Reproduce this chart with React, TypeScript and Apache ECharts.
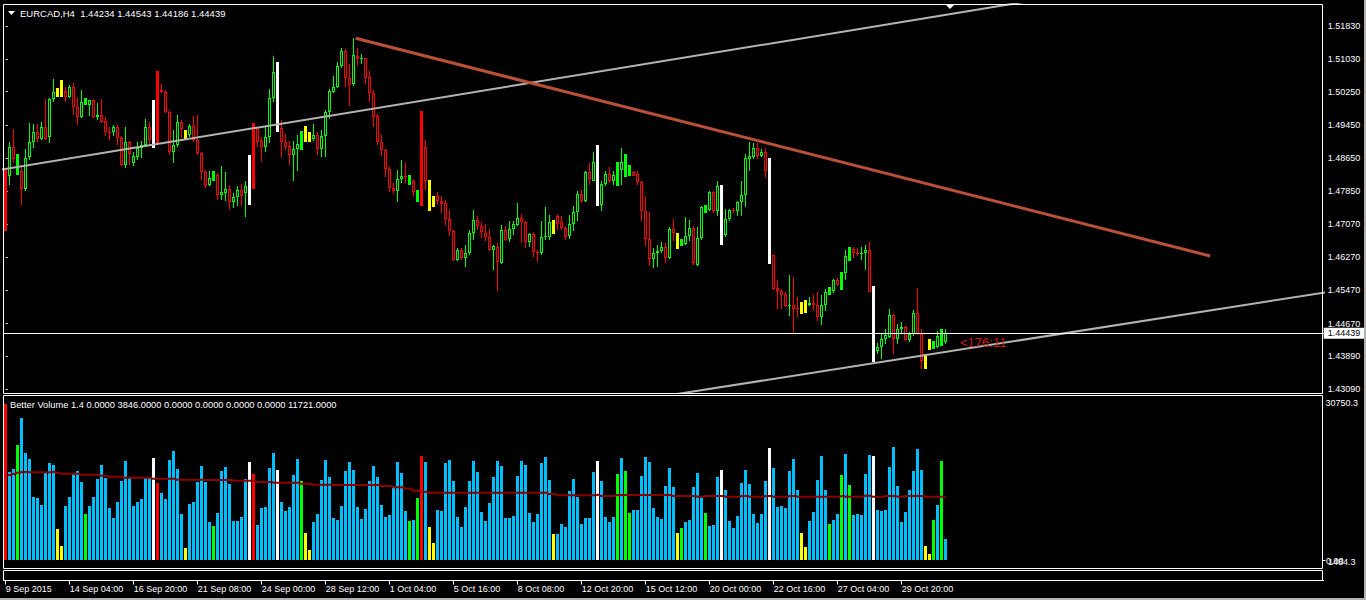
import React, { useEffect, useRef } from "react";
import * as echarts from "echarts";

// ---------- data (EURCAD, H4) ----------
const timeLabels = [
  "9 Sep 2015", "14 Sep 04:00", "16 Sep 20:00", "21 Sep 08:00", "24 Sep 00:00",
  "28 Sep 12:00", "1 Oct 04:00", "5 Oct 16:00", "8 Oct 08:00", "12 Oct 20:00",
  "15 Oct 12:00", "20 Oct 00:00", "22 Oct 16:00", "27 Oct 04:00", "29 Oct 20:00",
];

const priceTicks = [1.5183, 1.5103, 1.5025, 1.4945, 1.4865, 1.4785, 1.4707, 1.4627, 1.4547, 1.4467, 1.4389, 1.4309];

const opens = [
  1.4837, 1.4821, 1.4892, 1.4876, 1.4834, 1.4792, 1.4867, 1.4905, 1.4928, 1.4912,
  1.4939, 1.4917, 1.5007, 1.5033, 1.5053, 1.5026, 1.5011, 1.5036, 1.4988, 1.4965,
  1.5010, 1.4992, 1.5005, 1.4963, 1.4968, 1.4954, 1.4928, 1.4927, 1.4940, 1.4913,
  1.4849, 1.4905, 1.4853, 1.4869, 1.4889, 1.4897, 1.4940, 1.5005, 1.5075, 1.5029,
  1.5024, 1.4976, 1.4881, 1.4897, 1.4952, 1.4933, 1.4920, 1.4943, 1.4909, 1.4877,
  1.4832, 1.4800, 1.4833, 1.4825, 1.4776, 1.4781, 1.4791, 1.4759, 1.4772, 1.4789,
  1.4781, 1.4873, 1.4949, 1.4935, 1.4907, 1.4892, 1.4917, 1.5009, 1.5097, 1.4937,
  1.4904, 1.4895, 1.4872, 1.4887, 1.4931, 1.4943, 1.4928, 1.4912, 1.4921, 1.4887,
  1.4918, 1.4976, 1.5025, 1.5037, 1.5087, 1.5122, 1.5059, 1.5043, 1.5110, 1.5104,
  1.5105, 1.5060, 1.5021, 1.4967, 1.4903, 1.4885, 1.4839, 1.4794, 1.4786, 1.4815,
  1.4821, 1.4825, 1.4811, 1.4789, 1.4979, 1.4892, 1.4813, 1.4775, 1.4773, 1.4761,
  1.4756, 1.4719, 1.4690, 1.4620, 1.4645, 1.4624, 1.4637, 1.4684, 1.4717, 1.4703,
  1.4685, 1.4675, 1.4643, 1.4651, 1.4613, 1.4693, 1.4671, 1.4695, 1.4705, 1.4721,
  1.4711, 1.4663, 1.4683, 1.4640, 1.4637, 1.4675, 1.4675, 1.4717, 1.4727, 1.4711,
  1.4696, 1.4677, 1.4707, 1.4735, 1.4779, 1.4761, 1.4831, 1.4811, 1.4897, 1.4753,
  1.4803, 1.4827, 1.4809, 1.4855, 1.4837, 1.4875, 1.4849, 1.4831, 1.4827, 1.4807,
  1.4737, 1.4671, 1.4623, 1.4637, 1.4641, 1.4651, 1.4625, 1.4695, 1.4685, 1.4671,
  1.4659, 1.4677, 1.4697, 1.4609, 1.4673, 1.4753, 1.4741, 1.4783, 1.4737, 1.4801,
  1.4679, 1.4719, 1.4741, 1.4737, 1.4759, 1.4776, 1.4863, 1.4869, 1.4889, 1.4871,
  1.4879, 1.4866, 1.4632, 1.4553, 1.4546, 1.4539, 1.4510, 1.4511, 1.4505, 1.4519,
  1.4523, 1.4511, 1.4517, 1.4513, 1.4483, 1.4511, 1.4556, 1.4545, 1.4573, 1.4592,
  1.4589, 1.4652, 1.4647, 1.4638, 1.4637, 1.4638, 1.4645, 1.4557, 1.4401, 1.4411,
  1.4429, 1.4435, 1.4487, 1.4431, 1.4453, 1.4459, 1.4427, 1.4441, 1.4493, 1.4443,
  1.4395, 1.4429, 1.4424, 1.4411, 1.4455, 1.44234,
];

const highs = [
  1.4837, 1.4904, 1.4936, 1.4876, 1.4845, 1.4888, 1.4949, 1.4947, 1.4947, 1.4952,
  1.5008, 1.5009, 1.5055, 1.5033, 1.5053, 1.5036, 1.5040, 1.5047, 1.5009, 1.5029,
  1.5010, 1.5005, 1.5007, 1.4997, 1.5007, 1.4964, 1.4941, 1.4944, 1.4944, 1.4919,
  1.4941, 1.4907, 1.4881, 1.4905, 1.4907, 1.4960, 1.4952, 1.5005, 1.5075, 1.5043,
  1.5029, 1.4981, 1.4933, 1.4969, 1.4957, 1.4933, 1.4948, 1.4967, 1.4969, 1.4880,
  1.4837, 1.4833, 1.4833, 1.4829, 1.4847, 1.4832, 1.4800, 1.4781, 1.4797, 1.4804,
  1.4811, 1.4873, 1.4949, 1.4941, 1.4917, 1.4940, 1.5031, 1.5111, 1.5097, 1.4957,
  1.4924, 1.4907, 1.4907, 1.4921, 1.4931, 1.4943, 1.4928, 1.4947, 1.4929, 1.4933,
  1.4981, 1.5031, 1.5063, 1.5096, 1.5131, 1.5127, 1.5092, 1.5153, 1.5129, 1.5116,
  1.5107, 1.5075, 1.5029, 1.4971, 1.4924, 1.4887, 1.4843, 1.4805, 1.4837, 1.4861,
  1.4853, 1.4825, 1.4816, 1.4789, 1.4979, 1.4909, 1.4813, 1.4775, 1.4784, 1.4773,
  1.4765, 1.4741, 1.4693, 1.4649, 1.4649, 1.4655, 1.4693, 1.4741, 1.4725, 1.4712,
  1.4707, 1.4695, 1.4657, 1.4661, 1.4705, 1.4701, 1.4715, 1.4715, 1.4757, 1.4731,
  1.4715, 1.4685, 1.4687, 1.4643, 1.4715, 1.4747, 1.4729, 1.4717, 1.4731, 1.4727,
  1.4703, 1.4729, 1.4751, 1.4785, 1.4789, 1.4833, 1.4853, 1.4879, 1.4897, 1.4811,
  1.4835, 1.4843, 1.4835, 1.4855, 1.4889, 1.4875, 1.4849, 1.4833, 1.4833, 1.4809,
  1.4773, 1.4735, 1.4649, 1.4657, 1.4663, 1.4661, 1.4699, 1.4719, 1.4685, 1.4671,
  1.4723, 1.4717, 1.4703, 1.4699, 1.4751, 1.4753, 1.4785, 1.4787, 1.4811, 1.4801,
  1.4743, 1.4743, 1.4745, 1.4763, 1.4809, 1.4875, 1.4903, 1.4901, 1.4901, 1.4887,
  1.4889, 1.4866, 1.4633, 1.4573, 1.4551, 1.4543, 1.4583, 1.4579, 1.4531, 1.4519,
  1.4523, 1.4531, 1.4539, 1.4543, 1.4535, 1.4551, 1.4556, 1.4575, 1.4577, 1.4592,
  1.4645, 1.4652, 1.4651, 1.4649, 1.4651, 1.4655, 1.4664, 1.4557, 1.4421, 1.4443,
  1.4453, 1.4503, 1.4491, 1.4467, 1.4471, 1.4461, 1.4446, 1.4499, 1.4553, 1.4455,
  1.4395, 1.4429, 1.4424, 1.4449, 1.4455, 1.44543,
];

const lows = [
  1.4691, 1.4801, 1.4853, 1.4825, 1.4752, 1.4787, 1.4861, 1.4889, 1.4903, 1.4909,
  1.4909, 1.4901, 1.5001, 1.5013, 1.5011, 1.4999, 1.5009, 1.4969, 1.4944, 1.4961,
  1.4992, 1.4967, 1.4961, 1.4957, 1.4949, 1.4919, 1.4909, 1.4919, 1.4897, 1.4845,
  1.4841, 1.4849, 1.4845, 1.4861, 1.4865, 1.4893, 1.4897, 1.4889, 1.4900, 1.5021,
  1.4973, 1.4873, 1.4853, 1.4893, 1.4913, 1.4912, 1.4917, 1.4905, 1.4873, 1.4813,
  1.4793, 1.4797, 1.4811, 1.4764, 1.4765, 1.4761, 1.4741, 1.4745, 1.4749, 1.4749,
  1.4723, 1.4753, 1.4792, 1.4892, 1.4857, 1.4879, 1.4901, 1.5001, 1.4927, 1.4869,
  1.4885, 1.4848, 1.4809, 1.4833, 1.4884, 1.4903, 1.4905, 1.4907, 1.4873, 1.4867,
  1.4869, 1.4959, 1.5021, 1.5033, 1.5081, 1.5036, 1.4991, 1.5039, 1.5087, 1.5091,
  1.5044, 1.5001, 1.4941, 1.4897, 1.4871, 1.4820, 1.4784, 1.4779, 1.4759, 1.4805,
  1.4805, 1.4800, 1.4773, 1.4759, 1.4749, 1.4789, 1.4737, 1.4747, 1.4753, 1.4733,
  1.4701, 1.4677, 1.4617, 1.4617, 1.4621, 1.4604, 1.4633, 1.4669, 1.4693, 1.4673,
  1.4665, 1.4641, 1.4595, 1.4545, 1.4611, 1.4665, 1.4663, 1.4679, 1.4701, 1.4661,
  1.4649, 1.4651, 1.4627, 1.4615, 1.4631, 1.4669, 1.4669, 1.4683, 1.4693, 1.4693,
  1.4669, 1.4671, 1.4689, 1.4715, 1.4757, 1.4759, 1.4801, 1.4809, 1.4751, 1.4737,
  1.4797, 1.4805, 1.4801, 1.4799, 1.4801, 1.4819, 1.4821, 1.4821, 1.4801, 1.4713,
  1.4653, 1.4605, 1.4601, 1.4603, 1.4637, 1.4613, 1.4623, 1.4665, 1.4647, 1.4653,
  1.4657, 1.4665, 1.4607, 1.4605, 1.4669, 1.4733, 1.4739, 1.4733, 1.4725, 1.4657,
  1.4675, 1.4713, 1.4733, 1.4725, 1.4725, 1.4747, 1.4833, 1.4863, 1.4863, 1.4869,
  1.4818, 1.4611, 1.4549, 1.4503, 1.4501, 1.4506, 1.4485, 1.4441, 1.4483, 1.4491,
  1.4492, 1.4509, 1.4497, 1.4473, 1.4463, 1.4497, 1.4535, 1.4541, 1.4557, 1.4549,
  1.4573, 1.4617, 1.4625, 1.4629, 1.4619, 1.4597, 1.4542, 1.4375, 1.4395, 1.4381,
  1.4417, 1.4433, 1.4393, 1.4417, 1.4445, 1.4425, 1.4422, 1.4437, 1.4439, 1.4358,
  1.4359, 1.4403, 1.4405, 1.4409, 1.4413, 1.44186,
];

const closes = [
  1.4691, 1.4892, 1.4863, 1.4825, 1.4792, 1.4865, 1.4904, 1.4928, 1.4912, 1.4939,
  1.4911, 1.5007, 1.5025, 1.5013, 1.5011, 1.5012, 1.5036, 1.4988, 1.4965, 1.5000,
  1.4992, 1.5005, 1.4964, 1.4969, 1.4953, 1.4927, 1.4927, 1.4940, 1.4913, 1.4849,
  1.4905, 1.4875, 1.4871, 1.4889, 1.4897, 1.4940, 1.4909, 1.4889, 1.4900, 1.5023,
  1.4976, 1.4881, 1.4897, 1.4952, 1.4936, 1.4912, 1.4943, 1.4909, 1.4877, 1.4831,
  1.4797, 1.4817, 1.4811, 1.4776, 1.4783, 1.4791, 1.4759, 1.4772, 1.4789, 1.4773,
  1.4799, 1.4753, 1.4792, 1.4905, 1.4892, 1.4917, 1.5009, 1.5072, 1.4927, 1.4904,
  1.4893, 1.4872, 1.4888, 1.4899, 1.4884, 1.4903, 1.4905, 1.4921, 1.4887, 1.4918,
  1.4976, 1.5027, 1.5037, 1.5087, 1.5122, 1.5059, 1.5040, 1.5113, 1.5103, 1.5105,
  1.5059, 1.5021, 1.4965, 1.4903, 1.4884, 1.4839, 1.4793, 1.4786, 1.4815, 1.4821,
  1.4820, 1.4800, 1.4784, 1.4759, 1.4749, 1.4809, 1.4737, 1.4747, 1.4761, 1.4754,
  1.4719, 1.4689, 1.4620, 1.4645, 1.4624, 1.4637, 1.4684, 1.4717, 1.4701, 1.4687,
  1.4675, 1.4643, 1.4653, 1.4615, 1.4693, 1.4669, 1.4695, 1.4707, 1.4721, 1.4711,
  1.4663, 1.4683, 1.4639, 1.4639, 1.4675, 1.4677, 1.4711, 1.4683, 1.4707, 1.4696,
  1.4675, 1.4707, 1.4735, 1.4779, 1.4761, 1.4831, 1.4815, 1.4855, 1.4751, 1.4803,
  1.4827, 1.4809, 1.4825, 1.4799, 1.4857, 1.4819, 1.4821, 1.4823, 1.4807, 1.4737,
  1.4671, 1.4623, 1.4637, 1.4641, 1.4651, 1.4625, 1.4695, 1.4685, 1.4647, 1.4653,
  1.4677, 1.4697, 1.4613, 1.4673, 1.4747, 1.4733, 1.4783, 1.4737, 1.4799, 1.4657,
  1.4719, 1.4741, 1.4739, 1.4759, 1.4776, 1.4865, 1.4871, 1.4889, 1.4871, 1.4879,
  1.4833, 1.4611, 1.4550, 1.4545, 1.4537, 1.4509, 1.4511, 1.4503, 1.4503, 1.4491,
  1.4492, 1.4517, 1.4511, 1.4483, 1.4511, 1.4543, 1.4535, 1.4571, 1.4561, 1.4549,
  1.4630, 1.4617, 1.4637, 1.4637, 1.4638, 1.4645, 1.4544, 1.4375, 1.4411, 1.4431,
  1.4439, 1.4487, 1.4431, 1.4453, 1.4459, 1.4427, 1.4441, 1.4493, 1.4443, 1.4377,
  1.4359, 1.4403, 1.4405, 1.4438, 1.4413, 1.44439,
];

// n = normal, w = climax high (white), r = climax low (red), y = low volume (yellow), g = churn (green)
const barClass =
  "rnngnnnnnn" + "nnnyynnnnn" + "gnnnnnnnnn" + "nnnnnnnwrn" + "nnnnnynnnn" +
  "nngnnnnnnn" + "nwrnnnnnwn" + "nnnngyynnn" + "nnnnnnnnnn" + "nnnnnnnnnn" +
  "ngngrnyynn" + "nnnnnnnnnn" + "nnnnnnnnnn" + "nnnnnnnynn" + "nnnnnnnnwn" +
  "nnngnggnnn" + "nnnnnnnnyg" + "nnnnngnnnw" + "nnnnnnnnnn" + "nwnnnnnnny" +
  "ynnnnngnng" + "ngnnnnnwnn" + "nnnnnnnnnn" + "yygngn";

const volumes = [
  29156, 16510, 17008, 21494, 26478, 19936, 18877, 11837, 11588, 10280,
  16510, 18192, 17756, 5856, 2679, 10093, 11837, 16011, 16696, 14641,
  8660, 10093, 11837, 15077, 17756, 15388, 9657, 7912, 10903, 14827,
  18565, 15388, 10093, 10903, 11463, 15388, 15388, 19002, 14329, 12585,
  11339, 18690, 20372, 17008, 8597, 2243, 10466, 10903, 14641, 17569,
  14641, 7102, 6355, 8784, 16634, 17382, 14267, 7289, 7289, 8037,
  15077, 18316, 16073, 6542, 9719, 9906, 17257, 19998, 16821, 10840,
  9220, 9906, 15887, 18877, 14765, 5046, 1869, 7102, 8597, 14952,
  18690, 15450, 7850, 7476, 10093, 16634, 18316, 16821, 9906, 7663,
  9532, 14765, 17569, 15575, 10280, 8037, 8411, 13893, 18316, 16323,
  9220, 7289, 7476, 11588, 19438, 18316, 6168, 3177, 9345, 9158,
  18129, 18690, 14827, 8037, 6168, 9968, 14765, 18503, 16447, 8971,
  7289, 10653, 15575, 18503, 17569, 7850, 7850, 8224, 15700, 18503,
  17756, 8784, 7102, 8597, 18129, 19251, 14952, 4859, 4859, 6728,
  6168, 12896, 15139, 11775, 6728, 7850, 7850, 16447, 18503, 14765,
  8037, 7102, 8037, 16073, 19064, 16634, 8784, 9345, 9345, 15700,
  19251, 18316, 9719, 8037, 7663, 13831, 17195, 13644, 5046, 5981,
  7102, 7476, 13644, 16260, 11962, 8784, 6355, 6542, 15513, 16821,
  13083, 7289, 5981, 8224, 14391, 16821, 14204, 8597, 6915, 8597,
  14765, 20933, 17195, 9906, 10093, 9719, 16634, 18877, 13083, 5046,
  2430, 7289, 8971, 14952, 19438, 13145, 6728, 7476, 8597, 15887,
  19811, 14018, 8411, 8597, 8411, 16073, 19625, 19438, 9345, 9158,
  9345, 17382, 21120, 13831, 7102, 8971, 13083, 16634, 20746, 16821,
  2617, 1121, 7476, 10280, 18503, 3846,
];

const volumeAvg = [
  15887, 15887, 16073, 16323, 16447, 16447, 16385, 16385, 16385, 16385,
  16385, 16385, 16510, 16323, 16136, 16136, 16136, 16136, 16136, 15949,
  15949, 15949, 15949, 15949, 15762, 15762, 15575, 15575, 15575, 15575,
  15388, 15388, 15388, 15388, 15388, 15388, 15388, 15201, 15201, 15201,
  15201, 15201, 15201, 15014, 15014, 15014, 15014, 15014, 15014, 15014,
  14952, 14952, 14952, 14952, 14952, 14952, 14952, 14827, 14827, 14827,
  14827, 14827, 14827, 14578, 14578, 14578, 14578, 14454, 14454, 14454,
  14454, 14454, 14454, 14454, 14267, 14267, 14267, 14080, 14080, 14080,
  14080, 14080, 14018, 14018, 14018, 14018, 14018, 14018, 14018, 14018,
  14018, 14018, 14018, 14018, 13831, 13831, 13831, 13581, 13581, 13581,
  13332, 13332, 12958, 12958, 12772, 12772, 12585, 12585, 12585, 12585,
  12585, 12585, 12585, 12585, 12585, 12585, 12585, 12585, 12585, 12585,
  12585, 12585, 12585, 12585, 12585, 12585, 12585, 12585, 12585, 12585,
  12585, 12585, 12585, 12585, 12585, 12585, 12335, 12335, 12086, 12086,
  12086, 12086, 12086, 12086, 12086, 12086, 12086, 12086, 12211, 11962,
  11962, 11962, 11962, 12148, 12148, 12148, 12148, 12148, 12148, 12148,
  12148, 12148, 12148, 12148, 12148, 12148, 12148, 11962, 11962, 11962,
  11962, 11962, 11962, 11837, 11837, 11962, 11962, 11962, 11962, 11962,
  11837, 11837, 11837, 11837, 11962, 11962, 11837, 11837, 11837, 11837,
  11962, 11962, 11837, 11837, 11837, 11837, 11962, 11962, 11837, 11837,
  11837, 11837, 11837, 11837, 11837, 11837, 11837, 11837, 11837, 11962,
  11837, 11837, 11837, 11837, 11837, 12024, 12024, 11837, 11837, 11837,
  11962, 11962, 11962, 11837, 11837, 11962, 11962, 11962, 11962, 11962,
  11837, 11837, 11837, 11837, 11837, 11721,
];

// trend lines: [bar index, price]
const upperChannel = [[-1, 1.48378], [260, 1.52493]];
const lowerChannel = [[150, 1.42708], [335, 1.45498]];
const resistanceLine = [[87.5, 1.51534], [301.1, 1.46297]];
const lastPrice = 1.44439;

const titleText = "EURCAD,H4  1.44234 1.44543 1.44186 1.44439";
const volumeTitle = "Better Volume 1.4 0.0000 3846.0000 0.0000 0.0000 0.0000 0.0000 11721.0000";
const volumeTopLabel = "30750.3";
const volumeBottomLabels = ["0.00", "1484.3"];
const timerText = "<176:11";

// ---------- chart setup ----------
const SLOT_COUNT = 330;
const LABEL_STEP = 16;
const PRICE_MIN = 1.43001;
const PRICE_MAX = 1.52359;
const VOLUME_MAX = 30750.3;
const FONT = "'Liberation Sans', Arial, sans-serif";

const TYPE_CODE: Record<string, number> = { n: 0, w: 1, r: 2, y: 3, g: 4 };
const CANDLE_FILL = ["", "#ffffff", "#ff0000", "#ffff00", "#00ff00"];
const VOLUME_FILL = ["#00bfff", "#ffffff", "#ff0000", "#ffff00", "#00ff00"];

export default function App() {
  const ref = useRef<HTMLDivElement>(null);

  useEffect(() => {
    document.body.style.margin = "0";
    document.body.style.background = "#000";
    const chart = echarts.init(ref.current as HTMLDivElement, undefined, { renderer: "svg" });

    const classes = barClass.split("");
    const candleData = opens.map((o, i) => [i, o, highs[i], lows[i], closes[i], TYPE_CODE[classes[i]]]);
    const volumeData = volumes.map((v, i) => [i, v, TYPE_CODE[classes[i]]]);
    const avgData = volumeAvg.map((v, i) => [i, v]);
    const categories = Array.from({ length: SLOT_COUNT }, (_, k) => String(k));
    const showTick = (index: number) => index % LABEL_STEP === 0 && index / LABEL_STEP < timeLabels.length;

    const gridLeft = 3.7;
    const gridWidth = 1320;

    const textStyle = (text: string, size: number, color: string, align = "left") => ({
      text,
      fill: color,
      font: `${size}px ${FONT}`,
      align,
      verticalAlign: "middle",
      textAlign: align,
      textVerticalAlign: "middle",
    });

    const option: any = {
      animation: false,
      backgroundColor: "#000",
      grid: [
        { left: gridLeft, top: 4, width: gridWidth, height: 389 },
        { left: gridLeft, top: 395.5, width: gridWidth, height: 164.5 },
        { left: gridLeft, top: 570.5, width: gridWidth, height: 10 },
      ],
      xAxis: [
        { gridIndex: 0, type: "value", min: -0.5, max: SLOT_COUNT - 0.5, show: false },
        { gridIndex: 1, type: "value", min: -0.5, max: SLOT_COUNT - 0.5, show: false },
        {
          gridIndex: 2,
          type: "category",
          data: categories,
          boundaryGap: true,
          axisLine: { show: true, lineStyle: { color: "#ffffff", width: 1 } },
          axisTick: { show: true, interval: showTick, alignWithLabel: true, length: 4, lineStyle: { color: "#ffffff" } },
          axisLabel: {
            show: true,
            interval: showTick,
            formatter: (_v: string, idx: number) => timeLabels[idx / LABEL_STEP] ?? "",
            align: "left",
            margin: 4,
            color: "#ffffff",
            fontSize: 9,
            fontFamily: FONT,
          },
          splitLine: { show: false },
        },
      ],
      yAxis: [
        {
          gridIndex: 0,
          type: "value",
          position: "right",
          min: PRICE_MIN,
          max: PRICE_MAX,
          splitLine: { show: false },
          axisLine: { show: false },
          axisTick: { show: true, length: 2, customValues: priceTicks, lineStyle: { color: "#ffffff" } },
          axisLabel: {
            show: true,
            customValues: priceTicks,
            formatter: (v: number) => v.toFixed(5),
            color: "#ffffff",
            fontSize: 9,
            fontFamily: FONT,
            margin: 4,
          },
        },
        { gridIndex: 1, type: "value", min: 0, max: VOLUME_MAX, show: false, splitLine: { show: false } },
        { gridIndex: 2, type: "value", show: false, splitLine: { show: false } },
      ],
      series: [
        {
          type: "custom",
          name: "candles",
          xAxisIndex: 0,
          yAxisIndex: 0,
          z: 2,
          silent: true,
          data: candleData,
          renderItem: (_params: any, api: any) => {
            const i = api.value(0);
            const o = api.value(1);
            const h = api.value(2);
            const l = api.value(3);
            const c = api.value(4);
            const t = api.value(5);
            const pO = api.coord([i, o]);
            const x = pO[0];
            const yO = pO[1];
            const yC = api.coord([i, c])[1];
            const yH = api.coord([i, h])[1];
            const yL = api.coord([i, l])[1];
            const left = Math.round(x - 1.5);
            const top = Math.round(Math.min(yO, yC));
            let bottom = Math.round(Math.max(yO, yC));
            if (bottom - top < 1) bottom = top + 1;
            const wt = Math.round(yH);
            let wb = Math.round(yL);
            if (wb - wt < 1) wb = wt + 1;
            const color = t === 0 ? (c >= o ? "#00ff00" : "#ff0000") : CANDLE_FILL[t];
            const children: any[] = [
              { type: "rect", shape: { x: left + 1, y: wt, width: 1, height: wb - wt }, style: { fill: color } },
              { type: "rect", shape: { x: left, y: top, width: 3, height: bottom - top }, style: { fill: color } },
            ];
            if (t === 0 && bottom - top > 2) {
              children.push({
                type: "rect",
                shape: { x: left + 1, y: top + 1, width: 1, height: bottom - top - 2 },
                style: { fill: "#000000" },
              });
            }
            return { type: "group", children };
          },
        },
        {
          type: "line",
          name: "upper channel",
          xAxisIndex: 0,
          yAxisIndex: 0,
          data: upperChannel,
          symbol: "none",
          clip: true,
          silent: true,
          z: 4,
          lineStyle: { color: "#b4b4b4", width: 2 },
        },
        {
          type: "line",
          name: "lower channel",
          xAxisIndex: 0,
          yAxisIndex: 0,
          data: lowerChannel,
          symbol: "none",
          clip: true,
          silent: true,
          z: 4,
          lineStyle: { color: "#b4b4b4", width: 2 },
          markLine: {
            silent: true,
            symbol: ["none", "none"],
            precision: 5,
            animation: false,
            lineStyle: { color: "#ffffff", width: 1, type: "solid" },
            label: {
              show: true,
              position: "end",
              distance: 0,
              formatter: () => lastPrice.toFixed(5),
              color: "#000000",
              backgroundColor: "#ffffff",
              padding: [1, 4, 1, 4],
              fontSize: 9,
              fontFamily: FONT,
            },
            data: [{ yAxis: lastPrice }],
          },
        },
        {
          type: "line",
          name: "resistance",
          xAxisIndex: 0,
          yAxisIndex: 0,
          data: resistanceLine,
          symbol: "none",
          clip: true,
          silent: true,
          z: 4,
          lineStyle: { color: "#bb5038", width: 3 },
        },
        {
          type: "custom",
          name: "volume",
          xAxisIndex: 1,
          yAxisIndex: 1,
          z: 2,
          silent: true,
          data: volumeData,
          renderItem: (_params: any, api: any) => {
            const i = api.value(0);
            const v = api.value(1);
            const t = api.value(2);
            const p = api.coord([i, v]);
            const y0 = Math.round(api.coord([i, 0])[1]);
            const top = Math.round(p[1]);
            const left = Math.round(p[0] - 1.5);
            return {
              type: "rect",
              shape: { x: left, y: top, width: 3, height: Math.max(1, y0 - top) },
              style: { fill: VOLUME_FILL[t] },
            };
          },
        },
        {
          type: "line",
          name: "volume average",
          xAxisIndex: 1,
          yAxisIndex: 1,
          data: avgData,
          step: "middle",
          symbol: "none",
          silent: true,
          z: 5,
          lineStyle: { color: "#8b0000", width: 2 },
        },
      ],
      graphic: [
        { type: "rect", z: 50, silent: true, shape: { x: 3.5, y: 4.5, width: 1319, height: 389 }, style: { fill: "none", stroke: "#ffffff", lineWidth: 1 } },
        { type: "rect", z: 50, silent: true, shape: { x: 3.5, y: 395.5, width: 1319, height: 173 }, style: { fill: "none", stroke: "#ffffff", lineWidth: 1 } },
        { type: "rect", z: 50, silent: true, shape: { x: 3.5, y: 570.5, width: 1319, height: 10 }, style: { fill: "none", stroke: "#ffffff", lineWidth: 1 } },
        { type: "rect", z: 50, silent: true, shape: { x: 1364, y: 0, width: 2, height: 600 }, style: { fill: "#b0b0b0" } },
        { type: "rect", z: 50, silent: true, shape: { x: 0, y: 598, width: 1366, height: 2 }, style: { fill: "#b0b0b0" } },
        { type: "polygon", z: 50, silent: true, shape: { points: [[8, 11], [15, 11], [11.5, 15]] }, style: { fill: "#ffffff" } },
        { type: "text", z: 50, silent: true, x: 20, y: 13, style: textStyle(titleText, 9.5, "#ffffff") },
        { type: "polygon", z: 50, silent: true, shape: { points: [[945, 4], [955, 4], [950, 9]] }, style: { fill: "#ffffff" } },
        { type: "text", z: 50, silent: true, x: 10, y: 405, style: textStyle(volumeTitle, 9.3, "#ffffff") },
        { type: "text", z: 50, silent: true, x: 1325.5, y: 402.5, style: textStyle(volumeTopLabel, 9, "#ffffff") },
        { type: "line", z: 50, silent: true, shape: { x1: 1322.5, y1: 560.5, x2: 1325.5, y2: 560.5 }, style: { stroke: "#ffffff", lineWidth: 1 } },
        { type: "text", z: 50, silent: true, x: 1326, y: 560.5, style: textStyle(volumeBottomLabels[0], 9, "#ffffff") },
        { type: "text", z: 50, silent: true, x: 1328, y: 561.5, style: textStyle(volumeBottomLabels[1], 9, "#ffffff") },
        { type: "text", z: 50, silent: true, x: 960, y: 342, style: textStyle(timerText, 13, "#d01414") },
      ],
    };

    chart.setOption(option);
    return () => chart.dispose();
  }, []);

  return <div ref={ref} style={{ width: 1366, height: 600, background: "#000" }} />;
}
